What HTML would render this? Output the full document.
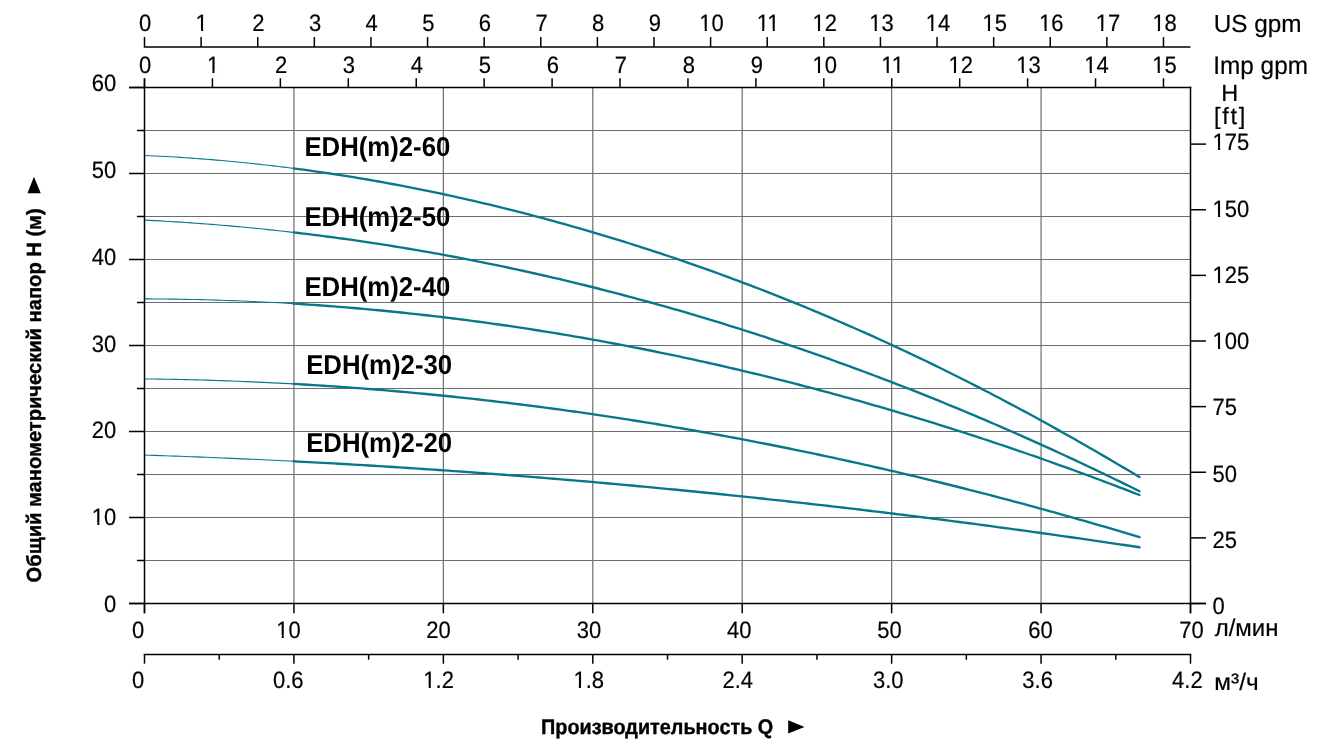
<!DOCTYPE html>
<html><head><meta charset="utf-8"><style>
html,body{margin:0;padding:0;background:#fff;}
body{width:1339px;height:745px;overflow:hidden;position:relative;font-family:"Liberation Sans",sans-serif;}
svg{position:absolute;left:0;top:0;will-change:transform;text-rendering:geometricPrecision;}
</style></head><body>
<svg width="1339" height="745" viewBox="0 0 1339 745">
<g><line x1="144.5" y1="560.5" x2="1190.5" y2="560.5" stroke="#6c6c6c" stroke-width="1"/><line x1="144.5" y1="517.5" x2="1190.5" y2="517.5" stroke="#6c6c6c" stroke-width="1"/><line x1="144.5" y1="474.5" x2="1190.5" y2="474.5" stroke="#6c6c6c" stroke-width="1"/><line x1="144.5" y1="431.5" x2="1190.5" y2="431.5" stroke="#6c6c6c" stroke-width="1"/><line x1="144.5" y1="388.5" x2="1190.5" y2="388.5" stroke="#6c6c6c" stroke-width="1"/><line x1="144.5" y1="345.5" x2="1190.5" y2="345.5" stroke="#6c6c6c" stroke-width="1"/><line x1="144.5" y1="302.5" x2="1190.5" y2="302.5" stroke="#6c6c6c" stroke-width="1"/><line x1="144.5" y1="259.5" x2="1190.5" y2="259.5" stroke="#6c6c6c" stroke-width="1"/><line x1="144.5" y1="216.5" x2="1190.5" y2="216.5" stroke="#6c6c6c" stroke-width="1"/><line x1="144.5" y1="173.5" x2="1190.5" y2="173.5" stroke="#6c6c6c" stroke-width="1"/><line x1="144.5" y1="130.5" x2="1190.5" y2="130.5" stroke="#6c6c6c" stroke-width="1"/><line x1="293.93" y1="87.5" x2="293.93" y2="603.5" stroke="#6c6c6c" stroke-width="1.2"/><line x1="443.36" y1="87.5" x2="443.36" y2="603.5" stroke="#6c6c6c" stroke-width="1.2"/><line x1="592.79" y1="87.5" x2="592.79" y2="603.5" stroke="#6c6c6c" stroke-width="1.2"/><line x1="742.21" y1="87.5" x2="742.21" y2="603.5" stroke="#6c6c6c" stroke-width="1.2"/><line x1="891.64" y1="87.5" x2="891.64" y2="603.5" stroke="#6c6c6c" stroke-width="1.2"/><line x1="1041.07" y1="87.5" x2="1041.07" y2="603.5" stroke="#6c6c6c" stroke-width="1.2"/><path d="M144.50,155.45 L149.66,155.68 L154.81,155.93 L159.97,156.19 L165.12,156.47 L170.28,156.76 L175.43,157.07 L180.59,157.39 L185.74,157.73 L190.90,158.09 L196.05,158.46 L201.21,158.85 L206.36,159.25 L211.52,159.67 L216.67,160.10 L221.83,160.55 L226.98,161.01 L232.14,161.49 L237.29,161.99 L242.45,162.50 L247.60,163.03 L252.76,163.57 L257.91,164.12 L263.07,164.70 L268.22,165.28 L273.38,165.89 L278.53,166.50 L283.69,167.14 L288.84,167.78 L294.00,168.45" fill="none" stroke="#08778a" stroke-width="1.1"/><path d="M293.50,168.38 L298.51,169.04 L303.51,169.71 L308.52,170.40 L313.52,171.10 L318.53,171.81 L323.54,172.54 L328.54,173.28 L333.55,174.04 L338.55,174.81 L343.56,175.60 L348.57,176.40 L353.57,177.21 L358.58,178.04 L363.58,178.88 L368.59,179.74 L373.59,180.61 L378.60,181.49 L383.61,182.39 L388.61,183.30 L393.62,184.23 L398.62,185.17 L403.63,186.12 L408.64,187.09 L413.64,188.07 L418.65,189.07 L423.65,190.08 L428.66,191.10 L433.67,192.14 L438.67,193.19 L443.68,194.26 L448.68,195.34 L453.69,196.43 L458.70,197.54 L463.70,198.66 L468.71,199.79 L473.71,200.94 L478.72,202.10 L483.72,203.28 L488.73,204.47 L493.74,205.67 L498.74,206.88 L503.75,208.11 L508.75,209.36 L513.76,210.62 L518.77,211.89 L523.77,213.17 L528.78,214.47 L533.78,215.78 L538.79,217.10 L543.80,218.44 L548.80,219.80 L553.81,221.16 L558.81,222.54 L563.82,223.93 L568.83,225.34 L573.83,226.76 L578.84,228.19 L583.84,229.63 L588.85,231.09 L593.86,232.57 L598.86,234.05 L603.87,235.55 L608.87,237.06 L613.88,238.59 L618.88,240.13 L623.89,241.68 L628.90,243.25 L633.90,244.83 L638.91,246.42 L643.91,248.03 L648.92,249.65 L653.93,251.28 L658.93,252.93 L663.94,254.59 L668.94,256.26 L673.95,257.95 L678.96,259.65 L683.96,261.37 L688.97,263.10 L693.97,264.84 L698.98,266.60 L703.99,268.37 L708.99,270.15 L714.00,271.95 L719.00,273.76 L724.01,275.59 L729.01,277.43 L734.02,279.28 L739.03,281.15 L744.03,283.03 L749.04,284.92 L754.04,286.83 L759.05,288.76 L764.06,290.70 L769.06,292.65 L774.07,294.61 L779.07,296.59 L784.08,298.59 L789.09,300.60 L794.09,302.62 L799.10,304.66 L804.10,306.71 L809.11,308.77 L814.12,310.85 L819.12,312.95 L824.13,315.05 L829.13,317.18 L834.14,319.31 L839.14,321.46 L844.15,323.63 L849.16,325.81 L854.16,328.00 L859.17,330.21 L864.17,332.44 L869.18,334.68 L874.19,336.93 L879.19,339.20 L884.20,341.48 L889.20,343.77 L894.21,346.09 L899.22,348.41 L904.22,350.75 L909.23,353.11 L914.23,355.48 L919.24,357.86 L924.25,360.26 L929.25,362.68 L934.26,365.11 L939.26,367.55 L944.27,370.01 L949.28,372.48 L954.28,374.97 L959.29,377.47 L964.29,379.99 L969.30,382.53 L974.30,385.08 L979.31,387.64 L984.32,390.22 L989.32,392.81 L994.33,395.42 L999.33,398.04 L1004.34,400.68 L1009.35,403.34 L1014.35,406.00 L1019.36,408.68 L1024.36,411.38 L1029.37,414.09 L1034.38,416.81 L1039.38,419.55 L1044.39,422.30 L1049.39,425.07 L1054.40,427.85 L1059.41,430.64 L1064.41,433.45 L1069.42,436.27 L1074.42,439.10 L1079.43,441.95 L1084.43,444.81 L1089.44,447.68 L1094.45,450.56 L1099.45,453.46 L1104.46,456.37 L1109.46,459.29 L1114.47,462.23 L1119.48,465.17 L1124.48,468.13 L1129.49,471.10 L1134.49,474.08 L1139.50,477.08" fill="none" stroke="#08778a" stroke-width="2.35" stroke-linecap="round" stroke-linejoin="round"/><path d="M144.50,220.10 L149.66,220.36 L154.81,220.63 L159.97,220.91 L165.12,221.21 L170.28,221.51 L175.43,221.83 L180.59,222.16 L185.74,222.50 L190.90,222.86 L196.05,223.22 L201.21,223.60 L206.36,223.99 L211.52,224.39 L216.67,224.81 L221.83,225.23 L226.98,225.67 L232.14,226.12 L237.29,226.58 L242.45,227.05 L247.60,227.54 L252.76,228.04 L257.91,228.55 L263.07,229.07 L268.22,229.60 L273.38,230.15 L278.53,230.70 L283.69,231.27 L288.84,231.85 L294.00,232.45" fill="none" stroke="#08778a" stroke-width="1.1"/><path d="M293.50,232.39 L298.51,232.97 L303.51,233.57 L308.52,234.18 L313.52,234.80 L318.53,235.43 L323.54,236.07 L328.54,236.73 L333.55,237.39 L338.55,238.07 L343.56,238.76 L348.57,239.46 L353.57,240.17 L358.58,240.89 L363.58,241.62 L368.59,242.36 L373.59,243.12 L378.60,243.89 L383.61,244.66 L388.61,245.45 L393.62,246.25 L398.62,247.06 L403.63,247.89 L408.64,248.72 L413.64,249.57 L418.65,250.42 L423.65,251.29 L428.66,252.17 L433.67,253.06 L438.67,253.96 L443.68,254.87 L448.68,255.80 L453.69,256.73 L458.70,257.68 L463.70,258.64 L468.71,259.61 L473.71,260.59 L478.72,261.58 L483.72,262.58 L488.73,263.60 L493.74,264.62 L498.74,265.66 L503.75,266.71 L508.75,267.77 L513.76,268.84 L518.77,269.92 L523.77,271.01 L528.78,272.12 L533.78,273.23 L538.79,274.36 L543.80,275.50 L548.80,276.65 L553.81,277.81 L558.81,278.98 L563.82,280.16 L568.83,281.36 L573.83,282.56 L578.84,283.78 L583.84,285.01 L588.85,286.25 L593.86,287.50 L598.86,288.76 L603.87,290.03 L608.87,291.32 L613.88,292.61 L618.88,293.92 L623.89,295.24 L628.90,296.57 L633.90,297.91 L638.91,299.26 L643.91,300.63 L648.92,302.00 L653.93,303.39 L658.93,304.78 L663.94,306.19 L668.94,307.61 L673.95,309.04 L678.96,310.48 L683.96,311.94 L688.97,313.40 L693.97,314.88 L698.98,316.36 L703.99,317.86 L708.99,319.37 L714.00,320.89 L719.00,322.42 L724.01,323.97 L729.01,325.52 L734.02,327.09 L739.03,328.66 L744.03,330.25 L749.04,331.85 L754.04,333.46 L759.05,335.08 L764.06,336.72 L769.06,338.36 L774.07,340.02 L779.07,341.68 L784.08,343.36 L789.09,345.05 L794.09,346.75 L799.10,348.46 L804.10,350.19 L809.11,351.92 L814.12,353.67 L819.12,355.42 L824.13,357.19 L829.13,358.97 L834.14,360.76 L839.14,362.56 L844.15,364.37 L849.16,366.20 L854.16,368.03 L859.17,369.88 L864.17,371.74 L869.18,373.61 L874.19,375.49 L879.19,377.38 L884.20,379.28 L889.20,381.20 L894.21,383.12 L899.22,385.06 L904.22,387.01 L909.23,388.96 L914.23,390.93 L919.24,392.92 L924.25,394.91 L929.25,396.91 L934.26,398.93 L939.26,400.95 L944.27,402.99 L949.28,405.04 L954.28,407.10 L959.29,409.17 L964.29,411.25 L969.30,413.35 L974.30,415.45 L979.31,417.57 L984.32,419.70 L989.32,421.83 L994.33,423.98 L999.33,426.14 L1004.34,428.32 L1009.35,430.50 L1014.35,432.70 L1019.36,434.90 L1024.36,437.12 L1029.37,439.35 L1034.38,441.59 L1039.38,443.84 L1044.39,446.10 L1049.39,448.37 L1054.40,450.66 L1059.41,452.95 L1064.41,455.26 L1069.42,457.58 L1074.42,459.91 L1079.43,462.25 L1084.43,464.60 L1089.44,466.96 L1094.45,469.34 L1099.45,471.72 L1104.46,474.12 L1109.46,476.53 L1114.47,478.94 L1119.48,481.37 L1124.48,483.82 L1129.49,486.27 L1134.49,488.73 L1139.50,491.21" fill="none" stroke="#08778a" stroke-width="2.35" stroke-linecap="round" stroke-linejoin="round"/><path d="M144.50,298.90 L149.66,298.92 L154.81,298.95 L159.97,298.98 L165.12,299.03 L170.28,299.09 L175.43,299.16 L180.59,299.24 L185.74,299.33 L190.90,299.43 L196.05,299.54 L201.21,299.66 L206.36,299.80 L211.52,299.94 L216.67,300.09 L221.83,300.26 L226.98,300.43 L232.14,300.62 L237.29,300.81 L242.45,301.02 L247.60,301.24 L252.76,301.46 L257.91,301.70 L263.07,301.95 L268.22,302.21 L273.38,302.48 L278.53,302.76 L283.69,303.05 L288.84,303.35 L294.00,303.66" fill="none" stroke="#08778a" stroke-width="1.1"/><path d="M293.50,303.63 L298.51,303.94 L303.51,304.27 L308.52,304.60 L313.52,304.94 L318.53,305.29 L323.54,305.65 L328.54,306.02 L333.55,306.40 L338.55,306.80 L343.56,307.20 L348.57,307.61 L353.57,308.03 L358.58,308.46 L363.58,308.90 L368.59,309.35 L373.59,309.81 L378.60,310.28 L383.61,310.76 L388.61,311.25 L393.62,311.75 L398.62,312.26 L403.63,312.78 L408.64,313.31 L413.64,313.85 L418.65,314.40 L423.65,314.96 L428.66,315.52 L433.67,316.10 L438.67,316.69 L443.68,317.29 L448.68,317.90 L453.69,318.52 L458.70,319.14 L463.70,319.78 L468.71,320.43 L473.71,321.09 L478.72,321.75 L483.72,322.43 L488.73,323.12 L493.74,323.81 L498.74,324.52 L503.75,325.24 L508.75,325.96 L513.76,326.70 L518.77,327.44 L523.77,328.20 L528.78,328.96 L533.78,329.74 L538.79,330.52 L543.80,331.32 L548.80,332.12 L553.81,332.94 L558.81,333.76 L563.82,334.59 L568.83,335.44 L573.83,336.29 L578.84,337.15 L583.84,338.03 L588.85,338.91 L593.86,339.80 L598.86,340.70 L603.87,341.62 L608.87,342.54 L613.88,343.47 L618.88,344.41 L623.89,345.36 L628.90,346.32 L633.90,347.29 L638.91,348.27 L643.91,349.26 L648.92,350.26 L653.93,351.27 L658.93,352.29 L663.94,353.32 L668.94,354.36 L673.95,355.40 L678.96,356.46 L683.96,357.53 L688.97,358.61 L693.97,359.69 L698.98,360.79 L703.99,361.90 L708.99,363.01 L714.00,364.14 L719.00,365.27 L724.01,366.42 L729.01,367.57 L734.02,368.74 L739.03,369.91 L744.03,371.10 L749.04,372.29 L754.04,373.49 L759.05,374.70 L764.06,375.93 L769.06,377.16 L774.07,378.40 L779.07,379.65 L784.08,380.91 L789.09,382.19 L794.09,383.47 L799.10,384.76 L804.10,386.06 L809.11,387.37 L814.12,388.68 L819.12,390.01 L824.13,391.35 L829.13,392.70 L834.14,394.06 L839.14,395.42 L844.15,396.80 L849.16,398.19 L854.16,399.58 L859.17,400.99 L864.17,402.41 L869.18,403.83 L874.19,405.26 L879.19,406.71 L884.20,408.16 L889.20,409.63 L894.21,411.10 L899.22,412.58 L904.22,414.07 L909.23,415.58 L914.23,417.09 L919.24,418.61 L924.25,420.14 L929.25,421.68 L934.26,423.23 L939.26,424.79 L944.27,426.36 L949.28,427.94 L954.28,429.52 L959.29,431.12 L964.29,432.73 L969.30,434.35 L974.30,435.97 L979.31,437.61 L984.32,439.25 L989.32,440.91 L994.33,442.57 L999.33,444.25 L1004.34,445.93 L1009.35,447.62 L1014.35,449.33 L1019.36,451.04 L1024.36,452.76 L1029.37,454.49 L1034.38,456.23 L1039.38,457.98 L1044.39,459.74 L1049.39,461.51 L1054.40,463.29 L1059.41,465.08 L1064.41,466.88 L1069.42,468.68 L1074.42,470.50 L1079.43,472.33 L1084.43,474.16 L1089.44,476.01 L1094.45,477.86 L1099.45,479.73 L1104.46,481.60 L1109.46,483.48 L1114.47,485.38 L1119.48,487.28 L1124.48,489.19 L1129.49,491.11 L1134.49,493.04 L1139.50,494.98" fill="none" stroke="#08778a" stroke-width="2.35" stroke-linecap="round" stroke-linejoin="round"/><path d="M144.50,378.95 L149.66,379.00 L154.81,379.07 L159.97,379.14 L165.12,379.22 L170.28,379.31 L175.43,379.41 L180.59,379.52 L185.74,379.63 L190.90,379.75 L196.05,379.88 L201.21,380.02 L206.36,380.17 L211.52,380.33 L216.67,380.49 L221.83,380.66 L226.98,380.84 L232.14,381.03 L237.29,381.23 L242.45,381.43 L247.60,381.64 L252.76,381.86 L257.91,382.09 L263.07,382.33 L268.22,382.58 L273.38,382.83 L278.53,383.09 L283.69,383.36 L288.84,383.64 L294.00,383.92" fill="none" stroke="#08778a" stroke-width="1.1"/><path d="M293.50,383.90 L298.51,384.18 L303.51,384.47 L308.52,384.77 L313.52,385.08 L318.53,385.40 L323.54,385.72 L328.54,386.05 L333.55,386.39 L338.55,386.73 L343.56,387.09 L348.57,387.45 L353.57,387.82 L358.58,388.19 L363.58,388.58 L368.59,388.97 L373.59,389.37 L378.60,389.77 L383.61,390.19 L388.61,390.61 L393.62,391.04 L398.62,391.48 L403.63,391.92 L408.64,392.37 L413.64,392.83 L418.65,393.30 L423.65,393.77 L428.66,394.26 L433.67,394.75 L438.67,395.24 L443.68,395.75 L448.68,396.26 L453.69,396.78 L458.70,397.31 L463.70,397.84 L468.71,398.39 L473.71,398.94 L478.72,399.49 L483.72,400.06 L488.73,400.63 L493.74,401.21 L498.74,401.80 L503.75,402.39 L508.75,403.00 L513.76,403.61 L518.77,404.22 L523.77,404.85 L528.78,405.48 L533.78,406.12 L538.79,406.77 L543.80,407.42 L548.80,408.08 L553.81,408.75 L558.81,409.43 L563.82,410.12 L568.83,410.81 L573.83,411.51 L578.84,412.21 L583.84,412.93 L588.85,413.65 L593.86,414.38 L598.86,415.11 L603.87,415.86 L608.87,416.61 L613.88,417.37 L618.88,418.13 L623.89,418.90 L628.90,419.68 L633.90,420.47 L638.91,421.27 L643.91,422.07 L648.92,422.88 L653.93,423.70 L658.93,424.52 L663.94,425.35 L668.94,426.19 L673.95,427.04 L678.96,427.89 L683.96,428.75 L688.97,429.62 L693.97,430.50 L698.98,431.38 L703.99,432.27 L708.99,433.17 L714.00,434.07 L719.00,434.99 L724.01,435.91 L729.01,436.83 L734.02,437.77 L739.03,438.71 L744.03,439.66 L749.04,440.61 L754.04,441.57 L759.05,442.55 L764.06,443.52 L769.06,444.51 L774.07,445.50 L779.07,446.50 L784.08,447.51 L789.09,448.52 L794.09,449.54 L799.10,450.57 L804.10,451.60 L809.11,452.65 L814.12,453.70 L819.12,454.75 L824.13,455.82 L829.13,456.89 L834.14,457.97 L839.14,459.05 L844.15,460.14 L849.16,461.24 L854.16,462.35 L859.17,463.47 L864.17,464.59 L869.18,465.72 L874.19,466.85 L879.19,467.99 L884.20,469.14 L889.20,470.30 L894.21,471.47 L899.22,472.64 L904.22,473.82 L909.23,475.00 L914.23,476.19 L919.24,477.39 L924.25,478.60 L929.25,479.82 L934.26,481.04 L939.26,482.26 L944.27,483.50 L949.28,484.74 L954.28,485.99 L959.29,487.25 L964.29,488.51 L969.30,489.78 L974.30,491.06 L979.31,492.35 L984.32,493.64 L989.32,494.94 L994.33,496.24 L999.33,497.55 L1004.34,498.87 L1009.35,500.20 L1014.35,501.54 L1019.36,502.88 L1024.36,504.22 L1029.37,505.58 L1034.38,506.94 L1039.38,508.31 L1044.39,509.69 L1049.39,511.07 L1054.40,512.46 L1059.41,513.86 L1064.41,515.26 L1069.42,516.67 L1074.42,518.09 L1079.43,519.51 L1084.43,520.95 L1089.44,522.38 L1094.45,523.83 L1099.45,525.28 L1104.46,526.74 L1109.46,528.21 L1114.47,529.68 L1119.48,531.16 L1124.48,532.65 L1129.49,534.14 L1134.49,535.65 L1139.50,537.15" fill="none" stroke="#08778a" stroke-width="2.35" stroke-linecap="round" stroke-linejoin="round"/><path d="M144.50,455.07 L149.66,455.24 L154.81,455.41 L159.97,455.59 L165.12,455.77 L170.28,455.95 L175.43,456.13 L180.59,456.32 L185.74,456.52 L190.90,456.71 L196.05,456.91 L201.21,457.11 L206.36,457.32 L211.52,457.53 L216.67,457.74 L221.83,457.95 L226.98,458.17 L232.14,458.40 L237.29,458.62 L242.45,458.85 L247.60,459.08 L252.76,459.32 L257.91,459.56 L263.07,459.80 L268.22,460.04 L273.38,460.29 L278.53,460.54 L283.69,460.80 L288.84,461.06 L294.00,461.32" fill="none" stroke="#08778a" stroke-width="1.1"/><path d="M293.50,461.29 L298.51,461.55 L303.51,461.81 L308.52,462.07 L313.52,462.34 L318.53,462.61 L323.54,462.88 L328.54,463.16 L333.55,463.44 L338.55,463.72 L343.56,464.00 L348.57,464.29 L353.57,464.58 L358.58,464.88 L363.58,465.17 L368.59,465.47 L373.59,465.78 L378.60,466.08 L383.61,466.39 L388.61,466.71 L393.62,467.02 L398.62,467.34 L403.63,467.66 L408.64,467.99 L413.64,468.31 L418.65,468.65 L423.65,468.98 L428.66,469.32 L433.67,469.66 L438.67,470.00 L443.68,470.35 L448.68,470.70 L453.69,471.05 L458.70,471.40 L463.70,471.76 L468.71,472.12 L473.71,472.49 L478.72,472.86 L483.72,473.23 L488.73,473.60 L493.74,473.98 L498.74,474.36 L503.75,474.74 L508.75,475.12 L513.76,475.51 L518.77,475.90 L523.77,476.30 L528.78,476.70 L533.78,477.10 L538.79,477.50 L543.80,477.91 L548.80,478.32 L553.81,478.73 L558.81,479.15 L563.82,479.57 L568.83,479.99 L573.83,480.41 L578.84,480.84 L583.84,481.27 L588.85,481.70 L593.86,482.14 L598.86,482.58 L603.87,483.02 L608.87,483.47 L613.88,483.92 L618.88,484.37 L623.89,484.83 L628.90,485.28 L633.90,485.74 L638.91,486.21 L643.91,486.67 L648.92,487.14 L653.93,487.62 L658.93,488.09 L663.94,488.57 L668.94,489.05 L673.95,489.54 L678.96,490.02 L683.96,490.51 L688.97,491.01 L693.97,491.50 L698.98,492.00 L703.99,492.51 L708.99,493.01 L714.00,493.52 L719.00,494.03 L724.01,494.54 L729.01,495.06 L734.02,495.58 L739.03,496.10 L744.03,496.63 L749.04,497.16 L754.04,497.69 L759.05,498.22 L764.06,498.76 L769.06,499.30 L774.07,499.84 L779.07,500.39 L784.08,500.94 L789.09,501.49 L794.09,502.05 L799.10,502.60 L804.10,503.17 L809.11,503.73 L814.12,504.30 L819.12,504.87 L824.13,505.44 L829.13,506.01 L834.14,506.59 L839.14,507.17 L844.15,507.76 L849.16,508.34 L854.16,508.93 L859.17,509.53 L864.17,510.12 L869.18,510.72 L874.19,511.32 L879.19,511.93 L884.20,512.53 L889.20,513.14 L894.21,513.76 L899.22,514.37 L904.22,514.99 L909.23,515.61 L914.23,516.24 L919.24,516.86 L924.25,517.49 L929.25,518.13 L934.26,518.76 L939.26,519.40 L944.27,520.04 L949.28,520.69 L954.28,521.34 L959.29,521.99 L964.29,522.64 L969.30,523.29 L974.30,523.95 L979.31,524.61 L984.32,525.28 L989.32,525.95 L994.33,526.62 L999.33,527.29 L1004.34,527.97 L1009.35,528.64 L1014.35,529.33 L1019.36,530.01 L1024.36,530.70 L1029.37,531.39 L1034.38,532.08 L1039.38,532.77 L1044.39,533.47 L1049.39,534.17 L1054.40,534.88 L1059.41,535.59 L1064.41,536.30 L1069.42,537.01 L1074.42,537.72 L1079.43,538.44 L1084.43,539.16 L1089.44,539.89 L1094.45,540.61 L1099.45,541.34 L1104.46,542.07 L1109.46,542.81 L1114.47,543.55 L1119.48,544.29 L1124.48,545.03 L1129.49,545.78 L1134.49,546.53 L1139.50,547.28" fill="none" stroke="#08778a" stroke-width="2.35" stroke-linecap="round" stroke-linejoin="round"/></g>
<g stroke="#000" stroke-width="1.5" fill="none"><line x1="129" y1="87.5" x2="1191.25" y2="87.5"/><line x1="129" y1="603.5" x2="1206" y2="603.5"/><line x1="144.5" y1="78.3" x2="144.5" y2="613.3"/><line x1="1190.5" y1="86.75" x2="1190.5" y2="613.3"/><line x1="129" y1="603.5" x2="144.5" y2="603.5"/><line x1="137" y1="560.5" x2="144.5" y2="560.5"/><line x1="129" y1="517.5" x2="144.5" y2="517.5"/><line x1="137" y1="474.5" x2="144.5" y2="474.5"/><line x1="129" y1="431.5" x2="144.5" y2="431.5"/><line x1="137" y1="388.5" x2="144.5" y2="388.5"/><line x1="129" y1="345.5" x2="144.5" y2="345.5"/><line x1="137" y1="302.5" x2="144.5" y2="302.5"/><line x1="129" y1="259.5" x2="144.5" y2="259.5"/><line x1="137" y1="216.5" x2="144.5" y2="216.5"/><line x1="129" y1="173.5" x2="144.5" y2="173.5"/><line x1="137" y1="130.5" x2="144.5" y2="130.5"/><line x1="129" y1="87.5" x2="144.5" y2="87.5"/><line x1="1190.5" y1="603.50" x2="1206" y2="603.50"/><line x1="1190.5" y1="537.88" x2="1206" y2="537.88"/><line x1="1190.5" y1="472.25" x2="1206" y2="472.25"/><line x1="1190.5" y1="406.62" x2="1206" y2="406.62"/><line x1="1190.5" y1="341.00" x2="1206" y2="341.00"/><line x1="1190.5" y1="275.38" x2="1206" y2="275.38"/><line x1="1190.5" y1="209.75" x2="1206" y2="209.75"/><line x1="1190.5" y1="144.12" x2="1206" y2="144.12"/><line x1="144.50" y1="603.5" x2="144.50" y2="613.3"/><line x1="293.93" y1="603.5" x2="293.93" y2="613.3"/><line x1="443.36" y1="603.5" x2="443.36" y2="613.3"/><line x1="592.79" y1="603.5" x2="592.79" y2="613.3"/><line x1="742.21" y1="603.5" x2="742.21" y2="613.3"/><line x1="891.64" y1="603.5" x2="891.64" y2="613.3"/><line x1="1041.07" y1="603.5" x2="1041.07" y2="613.3"/><line x1="1190.50" y1="603.5" x2="1190.50" y2="613.3"/><line x1="143.75" y1="654.5" x2="1191.25" y2="654.5"/><line x1="144.50" y1="654.5" x2="144.50" y2="663.7"/><line x1="219.21" y1="654.5" x2="219.21" y2="659.7"/><line x1="293.93" y1="654.5" x2="293.93" y2="663.7"/><line x1="368.64" y1="654.5" x2="368.64" y2="659.7"/><line x1="443.36" y1="654.5" x2="443.36" y2="663.7"/><line x1="518.07" y1="654.5" x2="518.07" y2="659.7"/><line x1="592.79" y1="654.5" x2="592.79" y2="663.7"/><line x1="667.50" y1="654.5" x2="667.50" y2="659.7"/><line x1="742.21" y1="654.5" x2="742.21" y2="663.7"/><line x1="816.93" y1="654.5" x2="816.93" y2="659.7"/><line x1="891.64" y1="654.5" x2="891.64" y2="663.7"/><line x1="966.36" y1="654.5" x2="966.36" y2="659.7"/><line x1="1041.07" y1="654.5" x2="1041.07" y2="663.7"/><line x1="1115.79" y1="654.5" x2="1115.79" y2="659.7"/><line x1="1190.50" y1="654.5" x2="1190.50" y2="663.7"/><line x1="143.75" y1="47.0" x2="1190.5" y2="47.0"/><line x1="144.50" y1="47.0" x2="144.50" y2="37"/><line x1="201.11" y1="47.0" x2="201.11" y2="37"/><line x1="257.72" y1="47.0" x2="257.72" y2="37"/><line x1="314.33" y1="47.0" x2="314.33" y2="37"/><line x1="370.94" y1="47.0" x2="370.94" y2="37"/><line x1="427.55" y1="47.0" x2="427.55" y2="37"/><line x1="484.16" y1="47.0" x2="484.16" y2="37"/><line x1="540.77" y1="47.0" x2="540.77" y2="37"/><line x1="597.38" y1="47.0" x2="597.38" y2="37"/><line x1="653.99" y1="47.0" x2="653.99" y2="37"/><line x1="710.60" y1="47.0" x2="710.60" y2="37"/><line x1="767.21" y1="47.0" x2="767.21" y2="37"/><line x1="823.82" y1="47.0" x2="823.82" y2="37"/><line x1="880.43" y1="47.0" x2="880.43" y2="37"/><line x1="937.04" y1="47.0" x2="937.04" y2="37"/><line x1="993.65" y1="47.0" x2="993.65" y2="37"/><line x1="1050.26" y1="47.0" x2="1050.26" y2="37"/><line x1="1106.87" y1="47.0" x2="1106.87" y2="37"/><line x1="1163.48" y1="47.0" x2="1163.48" y2="37"/><line x1="144.50" y1="87.5" x2="144.50" y2="78.3"/><line x1="212.43" y1="87.5" x2="212.43" y2="78.3"/><line x1="280.36" y1="87.5" x2="280.36" y2="78.3"/><line x1="348.29" y1="87.5" x2="348.29" y2="78.3"/><line x1="416.23" y1="87.5" x2="416.23" y2="78.3"/><line x1="484.16" y1="87.5" x2="484.16" y2="78.3"/><line x1="552.09" y1="87.5" x2="552.09" y2="78.3"/><line x1="620.02" y1="87.5" x2="620.02" y2="78.3"/><line x1="687.95" y1="87.5" x2="687.95" y2="78.3"/><line x1="755.88" y1="87.5" x2="755.88" y2="78.3"/><line x1="823.82" y1="87.5" x2="823.82" y2="78.3"/><line x1="891.75" y1="87.5" x2="891.75" y2="78.3"/><line x1="959.68" y1="87.5" x2="959.68" y2="78.3"/><line x1="1027.61" y1="87.5" x2="1027.61" y2="78.3"/><line x1="1095.54" y1="87.5" x2="1095.54" y2="78.3"/><line x1="1163.47" y1="87.5" x2="1163.47" y2="78.3"/></g>
<g font-family="Liberation Sans, sans-serif" fill="#000"><text transform="matrix(0.924,0,0,1,145.10,31.00)" text-anchor="middle" font-size="23.8" stroke="#000" stroke-width="0.2">0</text><text transform="matrix(0.924,0,0,1,201.74,31.00)" text-anchor="middle" font-size="23.8" stroke="#000" stroke-width="0.2">1</text><text transform="matrix(0.924,0,0,1,258.38,31.00)" text-anchor="middle" font-size="23.8" stroke="#000" stroke-width="0.2">2</text><text transform="matrix(0.924,0,0,1,315.02,31.00)" text-anchor="middle" font-size="23.8" stroke="#000" stroke-width="0.2">3</text><text transform="matrix(0.924,0,0,1,371.66,31.00)" text-anchor="middle" font-size="23.8" stroke="#000" stroke-width="0.2">4</text><text transform="matrix(0.924,0,0,1,428.30,31.00)" text-anchor="middle" font-size="23.8" stroke="#000" stroke-width="0.2">5</text><text transform="matrix(0.924,0,0,1,484.94,31.00)" text-anchor="middle" font-size="23.8" stroke="#000" stroke-width="0.2">6</text><text transform="matrix(0.924,0,0,1,541.58,31.00)" text-anchor="middle" font-size="23.8" stroke="#000" stroke-width="0.2">7</text><text transform="matrix(0.924,0,0,1,598.22,31.00)" text-anchor="middle" font-size="23.8" stroke="#000" stroke-width="0.2">8</text><text transform="matrix(0.924,0,0,1,654.86,31.00)" text-anchor="middle" font-size="23.8" stroke="#000" stroke-width="0.2">9</text><text transform="matrix(0.924,0,0,1,711.50,31.00)" text-anchor="middle" font-size="23.8" stroke="#000" stroke-width="0.2">10</text><text transform="matrix(0.924,0,0,1,768.14,31.00)" text-anchor="middle" font-size="23.8" stroke="#000" stroke-width="0.2">11</text><text transform="matrix(0.924,0,0,1,824.78,31.00)" text-anchor="middle" font-size="23.8" stroke="#000" stroke-width="0.2">12</text><text transform="matrix(0.924,0,0,1,881.42,31.00)" text-anchor="middle" font-size="23.8" stroke="#000" stroke-width="0.2">13</text><text transform="matrix(0.924,0,0,1,938.06,31.00)" text-anchor="middle" font-size="23.8" stroke="#000" stroke-width="0.2">14</text><text transform="matrix(0.924,0,0,1,994.70,31.00)" text-anchor="middle" font-size="23.8" stroke="#000" stroke-width="0.2">15</text><text transform="matrix(0.924,0,0,1,1051.34,31.00)" text-anchor="middle" font-size="23.8" stroke="#000" stroke-width="0.2">16</text><text transform="matrix(0.924,0,0,1,1107.98,31.00)" text-anchor="middle" font-size="23.8" stroke="#000" stroke-width="0.2">17</text><text transform="matrix(0.924,0,0,1,1164.62,31.00)" text-anchor="middle" font-size="23.8" stroke="#000" stroke-width="0.2">18</text><text transform="matrix(0.924,0,0,1,145.10,73.20)" text-anchor="middle" font-size="23.8" stroke="#000" stroke-width="0.2">0</text><text transform="matrix(0.924,0,0,1,213.06,73.20)" text-anchor="middle" font-size="23.8" stroke="#000" stroke-width="0.2">1</text><text transform="matrix(0.924,0,0,1,281.02,73.20)" text-anchor="middle" font-size="23.8" stroke="#000" stroke-width="0.2">2</text><text transform="matrix(0.924,0,0,1,348.98,73.20)" text-anchor="middle" font-size="23.8" stroke="#000" stroke-width="0.2">3</text><text transform="matrix(0.924,0,0,1,416.95,73.20)" text-anchor="middle" font-size="23.8" stroke="#000" stroke-width="0.2">4</text><text transform="matrix(0.924,0,0,1,484.91,73.20)" text-anchor="middle" font-size="23.8" stroke="#000" stroke-width="0.2">5</text><text transform="matrix(0.924,0,0,1,552.87,73.20)" text-anchor="middle" font-size="23.8" stroke="#000" stroke-width="0.2">6</text><text transform="matrix(0.924,0,0,1,620.83,73.20)" text-anchor="middle" font-size="23.8" stroke="#000" stroke-width="0.2">7</text><text transform="matrix(0.924,0,0,1,688.79,73.20)" text-anchor="middle" font-size="23.8" stroke="#000" stroke-width="0.2">8</text><text transform="matrix(0.924,0,0,1,756.75,73.20)" text-anchor="middle" font-size="23.8" stroke="#000" stroke-width="0.2">9</text><text transform="matrix(0.924,0,0,1,824.72,73.20)" text-anchor="middle" font-size="23.8" stroke="#000" stroke-width="0.2">10</text><text transform="matrix(0.924,0,0,1,892.68,73.20)" text-anchor="middle" font-size="23.8" stroke="#000" stroke-width="0.2">11</text><text transform="matrix(0.924,0,0,1,960.64,73.20)" text-anchor="middle" font-size="23.8" stroke="#000" stroke-width="0.2">12</text><text transform="matrix(0.924,0,0,1,1028.60,73.20)" text-anchor="middle" font-size="23.8" stroke="#000" stroke-width="0.2">13</text><text transform="matrix(0.924,0,0,1,1096.56,73.20)" text-anchor="middle" font-size="23.8" stroke="#000" stroke-width="0.2">14</text><text transform="matrix(0.924,0,0,1,1164.52,73.20)" text-anchor="middle" font-size="23.8" stroke="#000" stroke-width="0.2">15</text><text transform="matrix(0.924,0,0,1,116.30,90.75)" text-anchor="end" font-size="23.8" stroke="#000" stroke-width="0.2">60</text><text transform="matrix(0.924,0,0,1,116.30,178.10)" text-anchor="end" font-size="23.8" stroke="#000" stroke-width="0.2">50</text><text transform="matrix(0.924,0,0,1,116.30,264.80)" text-anchor="end" font-size="23.8" stroke="#000" stroke-width="0.2">40</text><text transform="matrix(0.924,0,0,1,116.30,351.60)" text-anchor="end" font-size="23.8" stroke="#000" stroke-width="0.2">30</text><text transform="matrix(0.924,0,0,1,116.30,438.10)" text-anchor="end" font-size="23.8" stroke="#000" stroke-width="0.2">20</text><text transform="matrix(0.924,0,0,1,116.30,524.90)" text-anchor="end" font-size="23.8" stroke="#000" stroke-width="0.2">10</text><text transform="matrix(0.924,0,0,1,116.30,611.60)" text-anchor="end" font-size="23.8" stroke="#000" stroke-width="0.2">0</text><text transform="matrix(0.924,0,0,1,1212.60,614.30)" text-anchor="start" font-size="23.8" stroke="#000" stroke-width="0.2">0</text><text transform="matrix(0.924,0,0,1,1212.60,548.00)" text-anchor="start" font-size="23.8" stroke="#000" stroke-width="0.2">25</text><text transform="matrix(0.924,0,0,1,1212.60,481.70)" text-anchor="start" font-size="23.8" stroke="#000" stroke-width="0.2">50</text><text transform="matrix(0.924,0,0,1,1212.60,415.40)" text-anchor="start" font-size="23.8" stroke="#000" stroke-width="0.2">75</text><text transform="matrix(0.924,0,0,1,1212.60,349.10)" text-anchor="start" font-size="23.8" stroke="#000" stroke-width="0.2">100</text><text transform="matrix(0.924,0,0,1,1212.60,282.80)" text-anchor="start" font-size="23.8" stroke="#000" stroke-width="0.2">125</text><text transform="matrix(0.924,0,0,1,1212.60,216.50)" text-anchor="start" font-size="23.8" stroke="#000" stroke-width="0.2">150</text><text transform="matrix(0.924,0,0,1,1212.60,150.20)" text-anchor="start" font-size="23.8" stroke="#000" stroke-width="0.2">175</text><text transform="matrix(0.924,0,0,1,138.00,637.60)" text-anchor="middle" font-size="23.8" stroke="#000" stroke-width="0.2">0</text><text transform="matrix(0.924,0,0,1,288.50,637.60)" text-anchor="middle" font-size="23.8" stroke="#000" stroke-width="0.2">10</text><text transform="matrix(0.924,0,0,1,438.40,637.60)" text-anchor="middle" font-size="23.8" stroke="#000" stroke-width="0.2">20</text><text transform="matrix(0.924,0,0,1,589.00,637.60)" text-anchor="middle" font-size="23.8" stroke="#000" stroke-width="0.2">30</text><text transform="matrix(0.924,0,0,1,739.30,637.60)" text-anchor="middle" font-size="23.8" stroke="#000" stroke-width="0.2">40</text><text transform="matrix(0.924,0,0,1,889.50,637.60)" text-anchor="middle" font-size="23.8" stroke="#000" stroke-width="0.2">50</text><text transform="matrix(0.924,0,0,1,1040.50,637.60)" text-anchor="middle" font-size="23.8" stroke="#000" stroke-width="0.2">60</text><text transform="matrix(0.924,0,0,1,1191.50,637.60)" text-anchor="middle" font-size="23.8" stroke="#000" stroke-width="0.2">70</text><text transform="matrix(0.924,0,0,1,138.00,688.40)" text-anchor="middle" font-size="23.8" stroke="#000" stroke-width="0.2">0</text><text transform="matrix(0.924,0,0,1,288.20,688.40)" text-anchor="middle" font-size="23.8" stroke="#000" stroke-width="0.2">0.6</text><text transform="matrix(0.924,0,0,1,438.60,688.40)" text-anchor="middle" font-size="23.8" stroke="#000" stroke-width="0.2">1.2</text><text transform="matrix(0.924,0,0,1,588.70,688.40)" text-anchor="middle" font-size="23.8" stroke="#000" stroke-width="0.2">1.8</text><text transform="matrix(0.924,0,0,1,737.80,688.40)" text-anchor="middle" font-size="23.8" stroke="#000" stroke-width="0.2">2.4</text><text transform="matrix(0.924,0,0,1,888.30,688.40)" text-anchor="middle" font-size="23.8" stroke="#000" stroke-width="0.2">3.0</text><text transform="matrix(0.924,0,0,1,1037.60,688.40)" text-anchor="middle" font-size="23.8" stroke="#000" stroke-width="0.2">3.6</text><text transform="matrix(0.924,0,0,1,1187.40,688.40)" text-anchor="middle" font-size="23.8" stroke="#000" stroke-width="0.2">4.2</text><text transform="matrix(0.9884,0,0,1,1213.72,32.16)" text-anchor="start" font-size="24.61" stroke="#000" stroke-width="0.2">US gpm</text><text transform="matrix(0.9619,0,0,1,1213.30,74.45)" text-anchor="start" font-size="25.31" stroke="#000" stroke-width="0.2">Imp gpm</text><text transform="matrix(1.0015,0,0,1,1221.17,100.50)" text-anchor="start" font-size="23.42" stroke="#000" stroke-width="0.2">H</text><text transform="matrix(1.0000,0,0,1,1214.02,123.83)" text-anchor="start" font-size="23.50" letter-spacing="1.73" stroke="#000" stroke-width="0.2">[ft]</text><text transform="matrix(0.9894,0,0,1,1214.67,635.80)" text-anchor="start" font-size="24.28" stroke="#000" stroke-width="0.2">л/мин</text><text transform="matrix(1.0185,0,0,1,1214.35,689.57)" text-anchor="start" font-size="23.89" stroke="#000" stroke-width="0.2">м³/ч</text><text transform="matrix(0.9432,0,0,1,304.38,155.85)" text-anchor="start" font-size="27.30" font-weight="bold">EDH(m)2-60</text><text transform="matrix(0.9432,0,0,1,304.38,226.20)" text-anchor="start" font-size="27.30" font-weight="bold">EDH(m)2-50</text><text transform="matrix(0.9432,0,0,1,304.38,296.35)" text-anchor="start" font-size="27.30" font-weight="bold">EDH(m)2-40</text><text transform="matrix(0.9432,0,0,1,306.18,374.15)" text-anchor="start" font-size="27.30" font-weight="bold">EDH(m)2-30</text><text transform="matrix(0.9432,0,0,1,306.18,452.05)" text-anchor="start" font-size="27.30" font-weight="bold">EDH(m)2-20</text><text transform="matrix(0.9376,0,0,1,541.07,733.75)" text-anchor="start" font-size="21.15" font-weight="bold" stroke="#000" stroke-width="0.4">Производительность Q</text><path d="M788.2,720.3 L804.5,726.9 L788.2,733.6 Z" fill="#000"/><text transform="translate(40.9,582.44) rotate(-90) scale(0.982,1)" font-size="20.5" font-weight="bold" stroke="#000" stroke-width="0.4">Общий манометрический напор H (м)</text><path d="M27.45,193.3 L33.95,176.8 L40.75,193.3 Z" fill="#000"/></g>
<g fill="#fff"><rect x="195.95" y="28.37" width="5.13" height="3.23"/><rect x="203.17" y="28.37" width="4.37" height="3.23"/><rect x="699.59" y="28.37" width="5.13" height="3.23"/><rect x="706.82" y="28.37" width="4.37" height="3.23"/><rect x="757.05" y="28.37" width="5.13" height="3.23"/><rect x="764.27" y="28.37" width="4.37" height="3.23"/><rect x="767.65" y="28.37" width="5.13" height="3.23"/><rect x="774.87" y="28.37" width="4.37" height="3.23"/><rect x="812.87" y="28.37" width="5.13" height="3.23"/><rect x="820.10" y="28.37" width="4.37" height="3.23"/><rect x="869.51" y="28.37" width="5.13" height="3.23"/><rect x="876.74" y="28.37" width="4.37" height="3.23"/><rect x="926.15" y="28.37" width="5.13" height="3.23"/><rect x="933.38" y="28.37" width="4.37" height="3.23"/><rect x="982.79" y="28.37" width="5.13" height="3.23"/><rect x="990.02" y="28.37" width="4.37" height="3.23"/><rect x="1039.43" y="28.37" width="5.13" height="3.23"/><rect x="1046.66" y="28.37" width="4.37" height="3.23"/><rect x="1096.07" y="28.37" width="5.13" height="3.23"/><rect x="1103.30" y="28.37" width="4.37" height="3.23"/><rect x="1152.71" y="28.37" width="5.13" height="3.23"/><rect x="1159.94" y="28.37" width="4.37" height="3.23"/><rect x="207.27" y="70.57" width="5.13" height="3.23"/><rect x="214.50" y="70.57" width="4.37" height="3.23"/><rect x="812.81" y="70.57" width="5.13" height="3.23"/><rect x="820.03" y="70.57" width="4.37" height="3.23"/><rect x="881.59" y="70.57" width="5.13" height="3.23"/><rect x="888.81" y="70.57" width="4.37" height="3.23"/><rect x="892.18" y="70.57" width="5.13" height="3.23"/><rect x="899.41" y="70.57" width="4.37" height="3.23"/><rect x="948.73" y="70.57" width="5.13" height="3.23"/><rect x="955.96" y="70.57" width="4.37" height="3.23"/><rect x="1016.69" y="70.57" width="5.13" height="3.23"/><rect x="1023.92" y="70.57" width="4.37" height="3.23"/><rect x="1084.65" y="70.57" width="5.13" height="3.23"/><rect x="1091.88" y="70.57" width="4.37" height="3.23"/><rect x="1152.62" y="70.57" width="5.13" height="3.23"/><rect x="1159.84" y="70.57" width="4.37" height="3.23"/><rect x="92.16" y="522.27" width="5.13" height="3.23"/><rect x="99.39" y="522.27" width="4.37" height="3.23"/><rect x="1212.92" y="346.47" width="5.13" height="3.23"/><rect x="1220.15" y="346.47" width="4.37" height="3.23"/><rect x="1212.92" y="280.17" width="5.13" height="3.23"/><rect x="1220.15" y="280.17" width="4.37" height="3.23"/><rect x="1212.92" y="213.87" width="5.13" height="3.23"/><rect x="1220.15" y="213.87" width="4.37" height="3.23"/><rect x="1212.92" y="147.57" width="5.13" height="3.23"/><rect x="1220.15" y="147.57" width="4.37" height="3.23"/><rect x="276.59" y="634.97" width="5.13" height="3.23"/><rect x="283.82" y="634.97" width="4.37" height="3.23"/><rect x="423.64" y="685.77" width="5.13" height="3.23"/><rect x="430.86" y="685.77" width="4.37" height="3.23"/><rect x="573.74" y="685.77" width="5.13" height="3.23"/><rect x="580.96" y="685.77" width="4.37" height="3.23"/></g>
</svg>
</body></html>
